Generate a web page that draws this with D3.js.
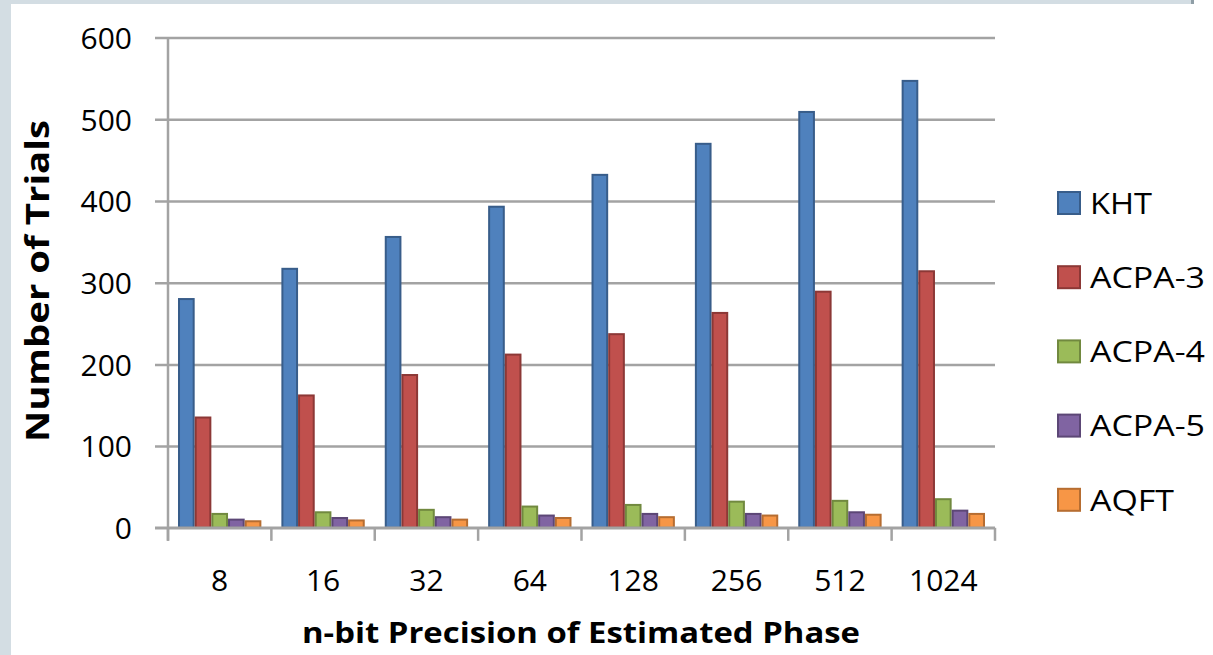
<!DOCTYPE html>
<html>
<head>
<meta charset="utf-8">
<script src="https://cdn.jsdelivr.net/npm/d3@7"></script>
<style>
  html, body { margin: 0; padding: 0; background: #d3dde3; }
  svg { display: block; }
</style>
</head>
<body>
<div id="chart"></div>
<script>
const categories = ["8", "16", "32", "64", "128", "256", "512", "1024"];
const seriesNames = ["KHT", "ACPA-3", "ACPA-4", "ACPA-5", "AQFT"];
const kht   = [280, 317, 356, 393, 432, 470, 509, 547];
const acpa3 = [135, 162, 187, 212, 237, 263, 289, 314];
const acpa4 = [17, 19, 22, 26, 28, 32, 33, 35];
const acpa5 = [10, 12, 13, 15, 17, 17, 19, 21];
const aqft  = [8, 9, 10, 12, 13, 15, 16, 17];
const yTicks = [0, 100, 200, 300, 400, 500, 600];

const fills   = ["#4f81bd", "#c0504d", "#9bbb59", "#8064a2", "#f79646"];
const strokes = ["#385d8a", "#8c3836", "#71893f", "#5c4776", "#b66d31"];
const grid_color = "#a3a3a3";
const text_color = "#000";
const font = "'Open Sans', 'Noto Sans', sans-serif";

const W = 1213, H = 655;
const allSeries = [kht, acpa3, acpa4, acpa5, aqft];

const svg = d3.select("#chart").append("svg")
    .attr("width", W).attr("height", H);

// page background: grey frame with white panel
svg.append("rect").attr("width", W).attr("height", H).attr("fill", "#d3dde3");
svg.append("rect").attr("x", 11).attr("y", 4).attr("width", W - 11).attr("height", H - 4).attr("fill", "#fff");
svg.append("rect").attr("x", 1194).attr("y", 0).attr("width", W - 1194).attr("height", 4).attr("fill", "#fff");
svg.append("rect").attr("x", 1191).attr("y", 0).attr("width", 3).attr("height", 4).attr("fill", "#8f9ea6");

const plot_left = 168, plot_right = 995, plot_top = 37.6, plot_bottom = 527.8;

const x = d3.scaleBand().domain(categories).range([plot_left, plot_right]).paddingInner(0).paddingOuter(0);
const xs = d3.scaleBand().domain(seriesNames).range([0, x.bandwidth()]).paddingOuter(0.6).paddingInner(0);
const y = d3.scaleLinear().domain([0, 600]).range([plot_bottom, plot_top]);

// gridlines + y ticks
const yAxis = d3.axisLeft(y).tickValues(yTicks).tickSize(-(plot_right - plot_left)).tickPadding(0).tickFormat(d3.format("d"));
const gy = svg.append("g").attr("transform", `translate(${plot_left},0)`).call(yAxis);
gy.select(".domain").remove();
gy.selectAll(".tick line")
    .attr("x1", -13)
    .attr("stroke", grid_color).attr("stroke-width", 2.5);
gy.selectAll(".tick text")
    .attr("x", -36).attr("dy", "0.36em")
    .attr("font-family", font).attr("font-size", 30).attr("fill", text_color);

// y axis line
svg.append("line")
    .attr("x1", plot_left).attr("x2", plot_left).attr("y1", plot_top).attr("y2", plot_bottom + 13)
    .attr("stroke", grid_color).attr("stroke-width", 2.5);

// bars
const groups = svg.append("g").selectAll("g")
    .data(categories)
    .enter().append("g")
    .attr("transform", d => `translate(${x(d)},0)`);

groups.selectAll("rect")
    .data((c, ci) => seriesNames.map((s, si) => ({s: s, si: si, v: allSeries[si][ci]})))
    .enter().append("rect")
    .attr("x", d => xs(d.s) + 1)
    .attr("width", xs.bandwidth() - 2)
    .attr("y", d => y(d.v))
    .attr("height", d => y(0) - y(d.v))
    .attr("fill", d => fills[d.si])
    .attr("stroke", d => strokes[d.si])
    .attr("stroke-width", 2);

// x axis
const xAxisG = svg.append("g").attr("transform", `translate(0,${plot_bottom})`);
xAxisG.append("line")
    .attr("x1", plot_left - 13).attr("x2", plot_right)
    .attr("stroke", grid_color).attr("stroke-width", 2.5);
xAxisG.selectAll("line.tk")
    .data(categories.concat(["end"]))
    .enter().append("line")
    .attr("class", "tk")
    .attr("x1", (d, i) => plot_left + i * x.step())
    .attr("x2", (d, i) => plot_left + i * x.step())
    .attr("y1", 0).attr("y2", 13)
    .attr("stroke", grid_color).attr("stroke-width", 2.5);
xAxisG.selectAll("text")
    .data(categories)
    .enter().append("text")
    .attr("x", d => x(d) + x.bandwidth() / 2)
    .attr("y", 63)
    .attr("text-anchor", "middle")
    .attr("font-family", font).attr("font-size", 30).attr("fill", text_color)
    .text(d => d);

// axis titles
svg.append("text")
    .attr("x", 581).attr("y", 643)
    .attr("text-anchor", "middle")
    .attr("font-family", font).attr("font-weight", "bold").attr("font-size", 29)
    .attr("textLength", 558).attr("lengthAdjust", "spacingAndGlyphs")
    .attr("fill", text_color)
    .text("n-bit Precision of Estimated Phase");

svg.append("text")
    .attr("transform", "translate(49,281) rotate(-90)")
    .attr("text-anchor", "middle")
    .attr("font-family", font).attr("font-weight", "bold").attr("font-size", 33)
    .attr("textLength", 322).attr("lengthAdjust", "spacingAndGlyphs")
    .attr("fill", text_color)
    .text("Number of Trials");

// legend
const legend = svg.append("g").selectAll("g")
    .data(seriesNames)
    .enter().append("g")
    .attr("transform", (d, i) => `translate(1058,${203 + i * 74.2})`);
legend.append("rect")
    .attr("x", 0).attr("y", -11).attr("width", 22).attr("height", 22)
    .attr("fill", (d, i) => fills[i])
    .attr("stroke", (d, i) => strokes[i])
    .attr("stroke-width", 2);
legend.append("text")
    .attr("x", 32).attr("y", 0).attr("dy", "0.36em")
    .attr("font-family", font).attr("font-size", 30).attr("fill", text_color)
    .attr("textLength", d => d === "KHT" ? 62 : d === "AQFT" ? 84 : 115)
    .attr("lengthAdjust", "spacingAndGlyphs")
    .text(d => d);
</script>
</body>
</html>
